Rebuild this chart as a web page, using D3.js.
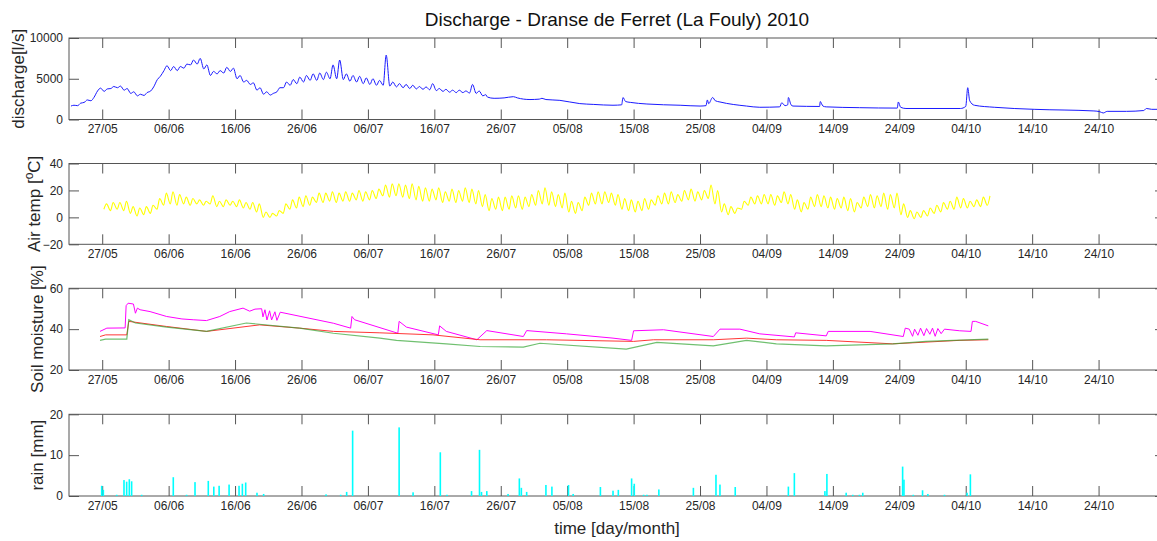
<!DOCTYPE html>
<html lang="en">
<head>
<meta charset="UTF-8">
<title>Discharge - Dranse de Ferret (La Fouly) 2010</title>
<script src="https://d3js.org/d3.v7.min.js"></script>
<style>
  body { margin: 0; background: #fff; }
  text { font-family: "Liberation Sans", Arial, Helvetica, sans-serif; }
</style>
</head>
<body>
<div id="chart"></div>
<script>
// ---- data (time in days since 22/05/2010) ----
const xTickLabels = ["27/05","06/06","16/06","26/06","06/07","16/07","26/07","05/08","15/08","25/08","04/09","14/09","24/09","04/10","14/10","24/10"];

// discharge [l/s]: daily low / high for days 0..62 (diurnal cycle)
const qLow  = [1650,1700,2100,2300,3500,3450,3800,3900,3600,3200,2900,2950,3500,4900,6000,6000,6000,6300,6700,6800,
               6200,5400,5600,5700,5900,5000,4600,4300,3600,3100,3000,3400,3900,4200,4400,4600,4800,4800,4900,5000,
               5000,4900,4700,4600,4400,4300,4200,4200,4100,4000,3900,3800,3750,3700,3650,3550,3450,3350,3300,3300,
               3250,3200,2900];
const qHigh = [1750,2000,2400,2700,3850,3750,4050,4100,3800,3400,3100,3300,4000,5300,6600,6500,6500,6800,7300,7500,
               6700,5900,6000,6400,6300,5400,4800,4500,3900,3400,3200,3900,4600,4900,5200,5400,5600,5700,5800,6700,
               7300,5600,5400,5300,5100,5000,4800,7900,4600,4400,4300,4200,4050,4000,4400,3800,3700,3600,3600,3500,
               4300,3500,3050];
// discharge recession after day 63
const qTailDay = [63,64,65.5,66.9,67.5,69.4,70.8,71.2,71.8,73.9,76.9,79,81.9,83.2,83.4,83.8,84.5,87,92,95,95.9,96.1,96.3,96.9,97.3,98,102,104,
                  107,107.3,107.8,108.2,108.3,108.7,109,113,113.1,113.5,114,119,124.7,124.85,125.2,126,134.2,135,135.3,135.6,136.3,139.3,145.3,154.3,155.2,155.7,156.3,159.2,161.8,162.2,163,165];
const qTailVal = [2750,2600,2650,2800,2650,2450,2500,2600,2450,2350,1950,1850,1750,1800,2700,2200,2100,1900,1750,1650,1700,2400,1950,2700,2300,2150,1650,1500,
                  1550,2050,1700,1800,2700,1800,1650,1600,2200,1650,1550,1450,1400,2150,1500,1350,1350,1600,3900,2300,1750,1500,1250,1050,950,800,1000,1000,1100,1350,1250,1250];

// air temperature [oC]: daily low / high for days 5..138
const tFirstDay = 5;
const tLow  = [6,5,6,5,3,1,2,3,6,9,10,9,10,9,10,9,10,8,8,9,8,7,6,4,0,0,1,3,6,7,8,9,11,11,12,11,12,12,13,12,13,14,16,15,16,15,14,13,12,12,
               13,11,12,11,12,11,10,8,5,6,5,6,7,6,8,9,10,9,8,7,4,3,5,9,10,10,11,9,6,5,4,5,6,9,10,10,11,12,13,12,13,14,10,4,2,3,6,9,10,10,
               10,9,11,10,6,4,6,8,8,7,6,7,5,4,7,8,7,8,6,7,2,0,-1,0,1,3,4,6,6,7,7,8,8,9];
const tHigh = [10,11,11,12,8,7,8,9,14,18,19,17,15,14,13,12,16,12,13,12,13,11,11,10,4,3,5,10,13,15,16,15,18,18,19,18,19,18,20,19,20,21,24,25,25,24,25,23,22,21,
               22,19,21,20,22,21,20,17,14,15,15,16,16,15,17,20,22,19,17,18,12,11,15,18,19,19,18,17,14,13,12,14,13,16,18,19,17,20,21,19,20,24,20,10,8,7,12,15,16,17,
               17,16,19,17,13,11,15,17,16,15,14,15,14,11,15,17,16,18,17,18,10,5,4,5,7,9,11,12,15,14,12,13,15,16];

// soil moisture [%]: breakpoints
const smMagentaDay = [4.67,5.7,8.45,8.6,8.9,9.7,10,10.3,10.7,12.2,14.7,17,18.7,20.7,22.7,24.2,26.2,27.2,28,29,29.2,29.5,29.8,30.2,30.5,31,31.3,31.8,39.8,42.4,42.6,43,49.5,49.7,50.8,
                      55.6,55.8,56.8,61.4,62.9,68.4,68.9,74.9,81.9,84.7,85,89.5,97,98,101,104,109.2,109.4,114,114.3,120.6,125.6,125.9,126.5,127,127.3,127.8,128.2,128.7,129.1,129.6,130,130.4,130.8,131.3,131.8,134.1,135.8,136,136.5,138.4];
const smMagentaVal = [38.9,40.5,40.6,51.5,52.7,52.3,47.8,50.3,49.5,48.6,46.2,45,44.6,44.2,46.2,48.6,50.3,48.8,49.8,50,46,49.5,44.5,49,44.5,48.5,44.3,48.3,42.9,40.5,46.2,44.6,38,43.8,41,
                      37.2,41.6,38.9,34.8,39.3,36.4,39.3,37.7,35.6,34.5,39.2,39.7,36.4,40,40,37.7,36.2,38.2,36.7,38.9,38.9,36.4,40.5,40,36.5,40,37,40.5,36.8,40.3,37.5,40.5,36.5,40.3,37.8,40,39.2,38.9,43.8,43.8,41.6];
const smRedDay = [4.67,5.5,8.7,9,14.7,20.7,24.7,28.7,34.7,39.8,46.8,54.8,61.9,71.9,85,88,97,102,106.5,114,124,134,138.4];
const smRedVal = [36.4,37.2,37.2,43.8,41.3,38.9,40.5,42.1,40.5,38.9,38.2,37.2,34.8,34.8,34,34.8,34.8,35.6,34.8,34.5,32.8,34.5,34.8];
const smGreenDay = [4.67,5.5,8.7,9,10,14.7,20.7,26.7,34.7,39.8,46.8,49.3,56.8,61.9,68.4,70.9,83.9,88.5,97,102,106.5,114,124,129,138.4];
const smGreenVal = [34.5,35.1,35.1,44.6,43,41,38.9,43,40.5,38,35.6,34.5,32.8,31.5,31.2,33.1,30.2,33.5,31.8,34.5,32.8,31.8,32.8,34,35.1];

// rain [mm]: events
const rainDay = [4.92,5.17,7.18,8.28,8.68,9.08,9.43,10.94,15.7,17.7,18.97,20.97,21.8,22.6,24.1,25.6,26.1,26.6,28.3,29.3,38.7,40.9,41.8,42.7,
                 49.7,51.8,55.9,56.9,60.6,61.8,62.1,62.9,66.1,67.8,68.1,68.9,71.8,72.7,75.2,75.9,80,81.9,82.7,84.7,85.1,86.5,87,88.8,94,97.4,98,100.3,
                 108.3,109.2,113.8,114.1,117,118,119,119.5,125.5,125.7,127.1,128.5,129.3,131.8,135.2,135.7];
const rainVal = [2.5,1.5,0.3,3.9,3.5,4.1,3.6,0.3,4.6,0.3,3.4,3.7,2.3,2.5,2.8,2.5,3,3.3,0.8,0.5,0.4,0.3,1,16,
                 16.8,0.9,10.7,0.3,1.2,11.3,1,1.2,0.5,4.3,2,1,2.7,2.3,2.7,0.5,2.2,1.3,1.5,4.3,3,0.3,0.3,1.6,2,5.2,2.8,2.2,
                 2.3,5.6,1.2,5.4,0.8,0.3,0.3,0.8,7.2,4,0.3,1.4,0.5,0.3,0.8,5.3];

// ---- layout ----
const width = 1157, height = 541;
const left = 69, right = 1165;
const t0 = new Date(2010, 4, 22);
const toDate = d => new Date(t0.getTime() + d * 864e5);
const parseTick = d3.timeParse("%d/%m/%Y");

const x = d3.scaleTime().domain([toDate(0), toDate(165)]).range([left, right]);
const tickDates = xTickLabels.map(s => parseTick(s + "/2010"));

const svg = d3.select("#chart").append("svg")
  .attr("width", width).attr("height", height);

const axisColor = "#555";
const textColor = "#262626";

function panel(top, bottom, domain, ticks, gap) {
  const y = d3.scaleLinear().domain(domain).range([bottom, top]);
  const g = svg.append("g");

  const ax = (gen, tf) => {
    const a = g.append("g").attr("transform", tf).call(gen);
    a.select(".domain").remove();
    a.selectAll(".tick line").attr("stroke", axisColor);
    a.selectAll("text").attr("fill", textColor).style("font-size", "12px");
    return a;
  };
  ax(d3.axisBottom(x).tickValues(tickDates).tickFormat(d3.timeFormat("%d/%m")).tickSizeInner(-10).tickSizeOuter(0).tickPadding(5),
     `translate(0,${bottom})`);
  ax(d3.axisTop(x).tickValues(tickDates).tickFormat("").tickSizeInner(-10).tickSizeOuter(0), `translate(0,${top})`);
  ax(d3.axisLeft(y).tickValues(ticks).tickFormat(d3.format("d")).tickSizeInner(-10).tickSizeOuter(0).tickPadding(6), `translate(${left},0)`);
  ax(d3.axisRight(y).tickValues(ticks).tickFormat("").tickSizeInner(-10).tickSizeOuter(0), `translate(${right},0)`);

  g.append("rect")
    .attr("x", left).attr("y", top)
    .attr("width", right - left).attr("height", bottom - top)
    .attr("fill", "none").attr("stroke", axisColor).attr("stroke-width", 1);

  const lab = svg.append("text")
    .attr("transform", `translate(${gap},${(top + bottom) / 2}) rotate(-90)`)
    .attr("text-anchor", "middle")
    .attr("dy", "0.35em")
    .attr("fill", textColor)
    .style("font-size", "17px");
  return { y, g, lab };
}

const p1 = panel(38, 119.5, [0, 10000], [0, 5000, 10000], 18);
p1.lab.text("discharge[l/s]");
const p2 = panel(163.5, 244.3, [-20, 40], [-20, 0, 20, 40], 34);
p2.lab.text("Air temp [");
p2.lab.append("tspan").attr("baseline-shift", "super").style("font-size", "12px").text("o");
p2.lab.append("tspan").text("C]");
const p3 = panel(288.3, 370, [20, 60], [20, 40, 60], 37);
p3.lab.text("Soil moisture [%]");
const p4 = panel(414.3, 496, [0, 20], [0, 10, 20], 37);
p4.lab.text("rain [mm]");

const line = (y, curve) => d3.line().curve(curve || d3.curveLinear)
  .x(d => x(toDate(d[0]))).y(d => y(d[1]));

// ---- discharge ----
const qPts = [];
qLow.forEach((v, i) => {
  qPts.push([i + 0.3, v]);
  qPts.push([i + 0.75, qHigh[i]]);
});
qTailDay.forEach((d, i) => qPts.push([d, qTailVal[i]]));

p1.g.append("path").datum(qPts)
  .attr("d", line(p1.y, d3.curveMonotoneX))
  .attr("fill", "none").attr("stroke", "#1a1aff").attr("stroke-width", 1);

// ---- air temperature ----
const tPts = [];
tLow.forEach((v, i) => {
  tPts.push([tFirstDay + i + 0.25, v]);
  tPts.push([tFirstDay + i + 0.65, tHigh[i]]);
});
p2.g.append("path").datum(tPts)
  .attr("d", line(p2.y, d3.curveMonotoneX))
  .attr("fill", "none").attr("stroke", "#ffff00").attr("stroke-width", 1.1);

// ---- soil moisture ----
const smSeries = [
  { day: smMagentaDay, val: smMagentaVal, color: "#ff00ff", w: 1, op: 1 },
  { day: smRedDay, val: smRedVal, color: "#ff2020", w: 1, op: 0.9 },
  { day: smGreenDay, val: smGreenVal, color: "#33a533", w: 1.2, op: 0.7 }
];
smSeries.forEach(s => {
  p3.g.append("path").datum(s.day.map((d, i) => [d, s.val[i]]))
    .attr("d", line(p3.y))
    .attr("fill", "none").attr("stroke", s.color)
    .attr("stroke-width", s.w).attr("stroke-opacity", s.op);
});

// ---- rain ----
p4.g.selectAll("rect.rain")
  .data(rainDay.map((d, i) => [d, rainVal[i]]))
  .enter().append("rect")
  .attr("class", "rain")
  .attr("x", d => x(toDate(d[0])) - 0.8)
  .attr("width", 1.6)
  .attr("y", d => p4.y(d[1]))
  .attr("height", d => p4.y(0) - p4.y(d[1]))
  .attr("fill", "#00ffff");

// ---- titles ----
svg.append("text")
  .attr("x", (left + right) / 2).attr("y", 26)
  .attr("text-anchor", "middle")
  .attr("fill", "#111")
  .style("font-size", "19px")
  .text("Discharge - Dranse de Ferret (La Fouly) 2010");

svg.append("text")
  .attr("x", (left + right) / 2).attr("y", 534)
  .attr("text-anchor", "middle")
  .attr("fill", textColor)
  .style("font-size", "17px")
  .text("time [day/month]");
</script>
</body>
</html>
